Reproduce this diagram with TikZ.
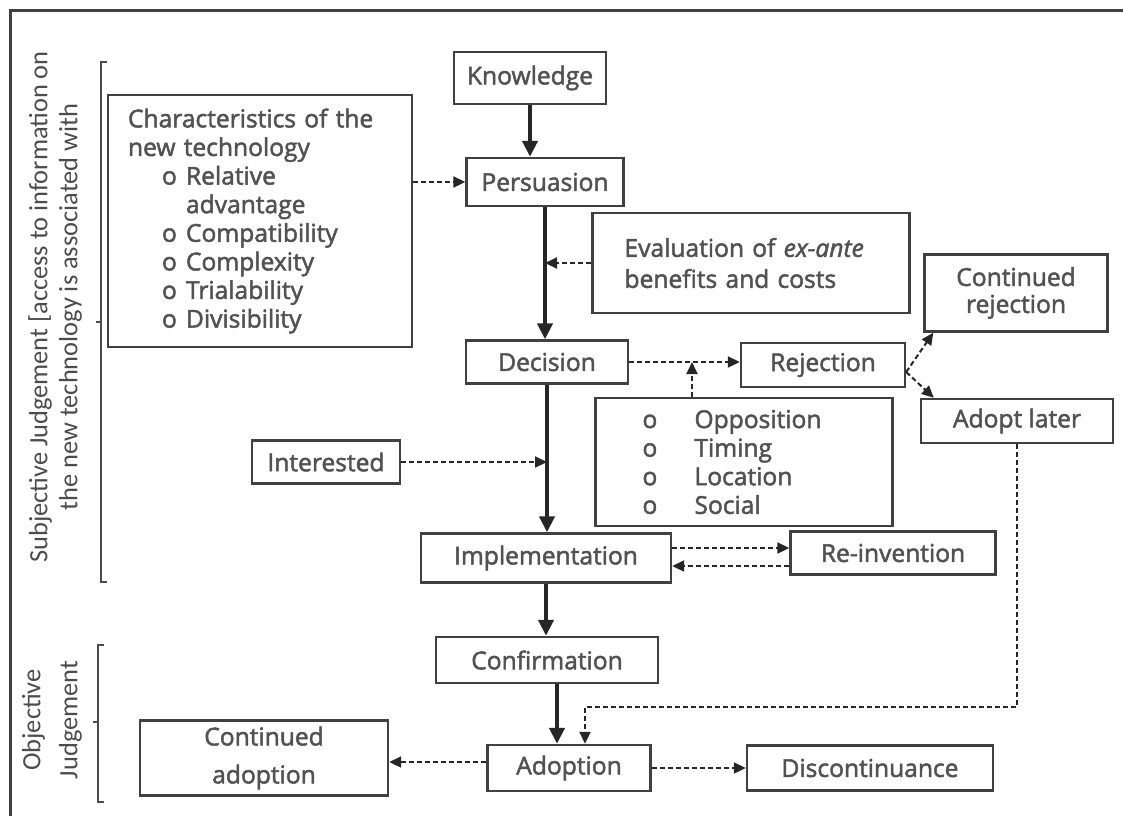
\documentclass[tikz,border=0pt]{standalone}
\usepackage{fontspec}
\setmainfont{Open Sans}
\newfontfamily\boxfont{Open Sans}[RawFeature={embolden=2}]
\newfontfamily\sidefont{Carlito}
\usetikzlibrary{arrows.meta}

\tikzset{
	box/.style={draw=black!75, line width=1.2pt, fill=white, text=black!68, font=\boxfont\fontsize{12.3}{14.3}\selectfont, align=center, inner sep=0pt},
	flow/.style={line width=2pt, draw=black!85, -{Triangle[length=8pt,width=7.5pt]}},
	side/.style={line width=1pt, draw=black!85, dash pattern=on 2.5pt off 1.5pt, -{Triangle[length=6pt,width=5.5pt]}},
	bracket/.style={line width=0.9pt, draw=black!70},
	sidetext/.style={rotate=90, font=\sidefont\fontsize{13.2}{15}\selectfont, text=black!70, align=center}
}
\newcommand{\charitem}[1]{\hspace*{17pt}\makebox[12pt][l]{o}#1}
\newcommand{\oppitem}[1]{\makebox[26pt][l]{o}#1}

\begin{document}
\begin{tikzpicture}[x=0.5pt, y=-0.5pt]
	\useasboundingbox (0,0) rectangle (1123,816);
	
	% Draw the frame
	\draw[line width=1.5pt, black!75] (10,816) -- (10,10) -- (1123,10);
	
	% Draw the main stages
	\node[box, minimum width=76pt, minimum height=26pt] (know) at (530,78) {Knowledge};
	\node[box, minimum width=78.5pt, minimum height=24pt] (pers) at (545,182) {Persuasion};
	\node[box, minimum width=81pt, minimum height=21.5pt] (dec) at (547,362) {Decision};
	\node[box, minimum width=125pt, minimum height=24.5pt] (impl) at (546,558) {Implementation};
	\node[box, minimum width=111pt, minimum height=23pt] (conf) at (547,660) {Confirmation};
	\node[box, minimum width=81.5pt, minimum height=23pt] (adop) at (569,768) {Adoption};
	
	% Draw the side boxes
	\node[box, align=left, inner xsep=10pt, text width=132pt, minimum height=126pt] (char) at (260,221)
		{Characteristics of the\\new technology\\\charitem{Relative}\\\hspace*{29pt}advantage\\\charitem{Compatibility}\\\charitem{Complexity}\\\charitem{Trialability}\\\charitem{Divisibility}};
	\node[box, align=left, inner xsep=16pt, text width=126.5pt, minimum height=50pt, font=\boxfont\fontsize{12.3}{15.5}\selectfont] (eval) at (751,263)
		{Evaluation of \textit{ex-ante}\\benefits and costs};
	\node[box, minimum width=91.5pt, minimum height=38.5pt, font=\boxfont\fontsize{12.3}{13.5}\selectfont] (contrej) at (1016,293) {Continued\\rejection};
	\node[box, minimum width=82pt, minimum height=22pt] (rej) at (823,365) {Rejection};
	\node[box, minimum width=96pt, minimum height=22pt] (later) at (1017,421) {Adopt later};
	\node[box, align=left, inner xsep=23.5pt, text width=101.5pt, minimum height=64pt] (opp) at (744,462)
		{\oppitem{Opposition}\\\oppitem{Timing}\\\oppitem{Location}\\\oppitem{Social}};
	\node[box, minimum width=74pt, minimum height=21.5pt] (int) at (326,462) {Interested};
	\node[box, minimum width=102.5pt, minimum height=21.5pt] (reinv) at (893,553) {Re-invention};
	\node[box, minimum width=124pt, minimum height=37.5pt, font=\boxfont\fontsize{12.3}{19}\selectfont] (contad) at (264,758) {Continued\\adoption};
	\node[box, minimum width=123pt, minimum height=22.5pt] (disc) at (870,768) {Discontinuance};
	
	% Draw the main flow
	\foreach \a/\b in {know/pers, pers/dec, dec/impl, impl/conf} {
		\draw[flow] (\a.south) -- (\a.south |- \b.north);
	}
	\draw[flow] ([xshift=5pt]conf.south) -- ([xshift=5pt]conf.south |- adop.north);
	
	% Draw the dashed influences
	\draw[side] (char.east |- pers.west) -- (pers.west);
	\draw[side] (eval.west) -- (eval.west -| pers.south);
	\draw[side] (int.east) -- (int.east -| dec.south);
	\draw[side] (dec.east) -- (dec.east -| rej.west);
	\draw[side] ([xshift=-26pt]opp.north) -- ([xshift=-26pt]opp.north |- dec.east);
	\coordinate (fork) at ([yshift=-3.5pt]rej.east);
	\draw[side] (fork) -- ([xshift=5pt]contrej.south west);
	\draw[side] (fork) -- ([xshift=7pt]later.north west);
	\draw[side] ([yshift=5pt]impl.east) -- ([yshift=5pt]impl.east -| reinv.west);
	\draw[side] ([yshift=-4pt]impl.east -| reinv.west) -- ([yshift=-4pt]impl.east);
	\draw[side] (later.south) |- ([xshift=8pt, yshift=18.5pt]adop.north) -- ([xshift=8pt]adop.north);
	\draw[side] ([yshift=3pt]adop.west) -- ([yshift=3pt]adop.west -| contad.east);
	\draw[side] (adop.east) -- (disc.west);
	
	% Draw the judgement brackets
	\draw[bracket] (107,62) -- (101,62) -- (101,582) -- (107,582);
	\draw[bracket] (101,322) -- (96,322);
	\draw[bracket] (104,645) -- (98,645) -- (98,802) -- (104,802);
	\draw[bracket] (98,722) -- (93,722);
	
	% Draw the judgement labels
	\node[sidetext] (subj) at (55,307) {Subjective Judgement [access to information on\\the new technology is associated with};
	\node[sidetext, font=\sidefont\fontsize{13.2}{18.5}\selectfont] (obj) at (52,720) {Objective\\Judgement};
	
\end{tikzpicture}
\end{document}
